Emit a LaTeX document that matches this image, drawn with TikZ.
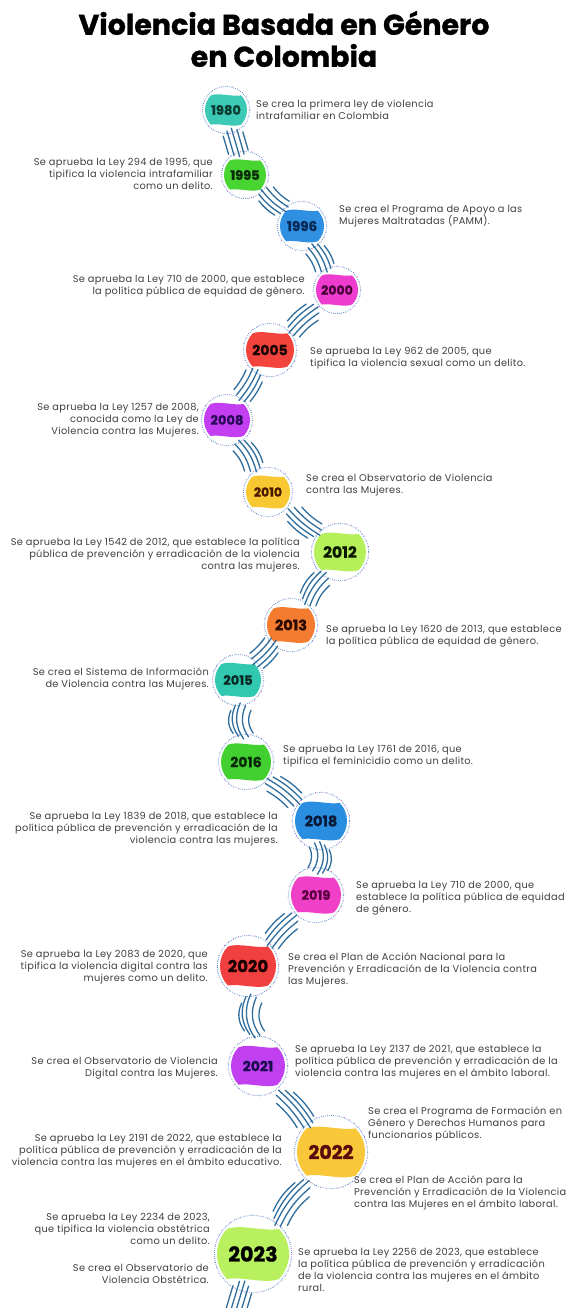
\documentclass[tikz,border=0pt]{standalone}
\usepackage{fontspec}
\setmainfont{Poppins}[LetterSpace=3.2]
\newfontfamily\heavyfont{Poppins}[BoldFeatures={FakeBold=1.2}]
\usetikzlibrary{calc}
\definecolor{txt}{HTML}{404040}
\definecolor{conncol}{HTML}{2F6E9C}
\definecolor{ringblue}{HTML}{3C8FD0}
\definecolor{ringpink}{HTML}{E060C0}
\tikzset{
  desc/.style={font=\fontsize{9.8}{12}\selectfont, text=txt, inner sep=0pt},
  descl/.style={desc, anchor=west, align=left},
  descr/.style={desc, anchor=east, align=right},
  conn/.style={draw=conncol, line width=1.3pt, line cap=round},
  ringA/.style={draw=ringblue, line width=0.7pt, dash pattern=on 0.7pt off 1.3pt},
  ringB/.style={draw=ringpink, line width=0.7pt, dash pattern=on 0.7pt off 5pt},
  yearnode/.style={circle, inner sep=0pt},
  titlestyle/.style={font=\heavyfont\bfseries\fontsize{28.5}{32}\selectfont, align=center, text=black}
}
\newcommand\yr[7]{%
  \definecolor{blobfill}{HTML}{#5}%
  \definecolor{blobtext}{HTML}{#6}%
  \begin{scope}[shift={(#2,#3)}, scale=#4]
    \fill[blobfill] (-44:1) arc[start angle=-44, end angle=44, radius=1]
      .. controls (0.35,0.84) and (-0.3,0.62) .. (136:1)
      arc[start angle=136, end angle=224, radius=1]
      .. controls (-0.35,-0.84) and (0.3,-0.62) .. (-44:1) -- cycle;
  \end{scope}
  \draw[ringA] (#2,#3) circle[radius=#4+2.5];
  \draw[ringB] (#2,#3) circle[radius=#4+3.1];
  \node[yearnode, minimum size=2*#4+5, text=blobtext, font=\heavyfont\bfseries\fontsize{#7}{#7}\selectfont] (y#1) at (#2,#3) {#1};
}
\newcommand\cn[3]{%
  \foreach \o/\s/\e in {-10pt/0.36/0.64, -5pt/0.30/0.68, 0pt/0.28/0.72, 5pt/0.32/0.70, 10pt/0.38/0.66}{
    \draw[conn] ($(#1)!\s!(#2)!\o!90:(#2)$) to[bend left=#3] ($(#1)!\e!(#2)!\o!90:(#2)$);
  }%
}
\begin{document}
\begin{tikzpicture}[x=1pt, y=-1pt]
\path[use as bounding box, fill=white] (0,0) rectangle (567,1308);
\node[titlestyle] (title) at (284,39) {Violencia Basada en Género\\en Colombia};

\yr{1980}{226}{110}{21}{3CC9B5}{0B3D33}{13}
\yr{1995}{245}{175}{21}{48D431}{0B2A0B}{13}
\yr{1996}{302}{226}{22}{2F8FE0}{0A2A5A}{13.5}
\yr{2000}{337}{290}{21}{EE3CCF}{4A0038}{12.5}
\yr{2005}{270}{350}{24}{F2443C}{1A0505}{14}
\yr{2008}{227}{420}{23}{C23EF0}{2A0A5A}{13}
\yr{2010}{268}{492}{22}{F8C832}{4A1A00}{12.5}
\yr{2012}{340}{552}{26}{B5EF5A}{0A1A00}{15.5}
\yr{2013}{291}{625}{24}{F47C30}{2A0A00}{14.5}
\yr{2015}{238}{680}{23}{30C8B0}{0A2A25}{13}
\yr{2016}{246}{762}{25}{42D030}{0A2A0A}{14}
\yr{2018}{321}{821}{26}{2A8EE0}{0A1A3A}{14.5}
\yr{2019}{316}{895}{25}{F040C8}{5A0040}{13}
\yr{2020}{248}{966}{28}{F24040}{1A0000}{16.5}
\yr{2021}{258}{1066}{27}{C040F0}{1A0A50}{14}
\yr{2022}{331}{1152}{34}{F8C83A}{5A0A0A}{19}
\yr{2023}{253}{1254}{36}{B8F060}{000000}{20.5}
\coordinate (bottomend) at (224,1350);

\cn{y1980}{y1995}{0}
\cn{y1995}{y1996}{-10}
\cn{y1996}{y2000}{12}
\cn{y2000}{y2005}{-8}
\cn{y2005}{y2008}{8}
\cn{y2008}{y2010}{14}
\cn{y2010}{y2012}{-8}
\cn{y2012}{y2013}{-14}
\cn{y2013}{y2015}{8}
\cn{y2015}{y2016}{-30}
\cn{y2016}{y2018}{8}
\cn{y2018}{y2019}{30}
\cn{y2019}{y2020}{-8}
\cn{y2020}{y2021}{-30}
\cn{y2021}{y2022}{8}
\cn{y2022}{y2023}{-12}
\begin{scope}
  \clip (0,0) rectangle (567,1308);
  \cn{y2023}{bottomend}{0}
\end{scope}

\node[descl] (t1980) at (256,110) {Se crea la primera ley de violencia\\intrafamiliar en Colombia};
\node[descr] (t1995) at (213,174) {Se aprueba la Ley 294 de 1995, que\\tipifica la violencia intrafamiliar\\como un delito.};
\node[descl] (t1996) at (339,216) {Se crea el Programa de Apoyo a las\\Mujeres Maltratadas (PAMM).};
\node[descr] (t2000) at (305,286) {Se aprueba la Ley 710 de 2000, que establece\\la política pública de equidad de género.};
\node[descl] (t2005) at (310,358) {Se aprueba la Ley 962 de 2005, que\\tipifica la violencia sexual como un delito.};
\node[descr] (t2008) at (199,420) {Se aprueba la Ley 1257 de 2008,\\conocida como la Ley de\\Violencia contra las Mujeres.};
\node[descl] (t2010) at (306,485) {Se crea el Observatorio de Violencia\\contra las Mujeres.};
\node[descr] (t2012) at (300,555) {Se aprueba la Ley 1542 de 2012, que establece la política\\pública de prevención y erradicación de la violencia\\contra las mujeres.};
\node[descl] (t2013) at (326,636) {Se aprueba la Ley 1620 de 2013, que establece\\la política pública de equidad de género.};
\node[descr] (t2015) at (209,679) {Se crea el Sistema de Información\\de Violencia contra las Mujeres.};
\node[descl] (t2016) at (283,756) {Se aprueba la Ley 1761 de 2016, que\\tipifica el feminicidio como un delito.};
\node[descr] (t2018) at (278,829) {Se aprueba la Ley 1839 de 2018, que establece la\\política pública de prevención y erradicación de la\\violencia contra las mujeres.};
\node[descl] (t2019) at (356,898) {Se aprueba la Ley 710 de 2000, que\\establece la política pública de equidad\\de género.};
\node[descr] (t2020a) at (208,967) {Se aprueba la Ley 2083 de 2020, que\\tipifica la violencia digital contra las\\mujeres como un delito.};
\node[descl] (t2020b) at (288,970) {Se crea el Plan de Acción Nacional para la\\Prevención y Erradicación de la Violencia contra\\las Mujeres.};
\node[descr] (t2021a) at (218,1068) {Se crea el Observatorio de Violencia\\Digital contra las Mujeres.};
\node[descl] (t2021b) at (295,1062) {Se aprueba la Ley 2137 de 2021, que establece la\\política pública de prevención y erradicación de la\\violencia contra las mujeres en el ámbito laboral.};
\node[descl] (t2022a) at (368,1124) {Se crea el Programa de Formación en\\Género y Derechos Humanos para\\funcionarios públicos.};
\node[descr] (t2022b) at (282,1151) {Se aprueba la Ley 2191 de 2022, que establece la\\política pública de prevención y erradicación de la\\violencia contra las mujeres en el ámbito educativo.};
\node[descl] (t2022c) at (354,1193) {Se crea el Plan de Acción para la\\Prevención y Erradicación de la Violencia\\contra las Mujeres en el ámbito laboral.};
\node[descr] (t2023a) at (210,1229) {Se aprueba la Ley 2234 de 2023,\\que tipifica la violencia obstétrica\\como un delito.};
\node[descr] (t2023b) at (209,1274) {Se crea el Observatorio de\\Violencia Obstétrica.};
\node[descl] (t2023c) at (298,1270) {Se aprueba la Ley 2256 de 2023, que establece\\la política pública de prevención y erradicación\\de la violencia contra las mujeres en el ámbito\\rural.};
\end{tikzpicture}
\end{document}
